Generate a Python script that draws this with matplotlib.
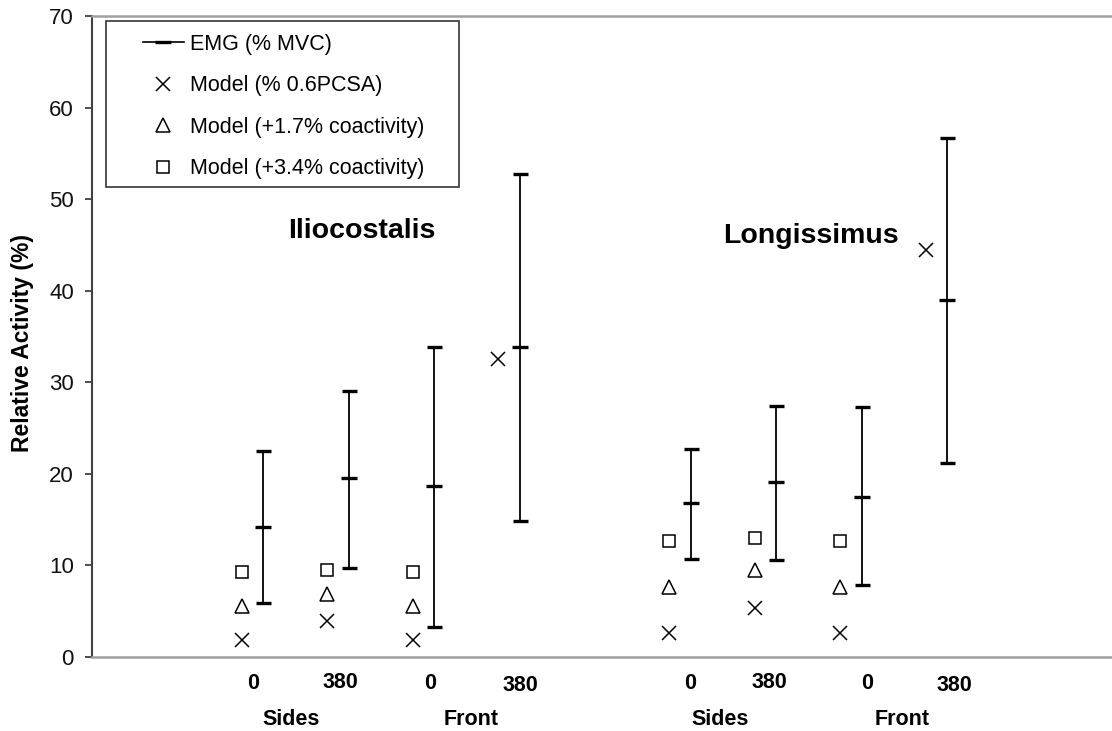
import matplotlib
matplotlib.use('Agg')
import matplotlib.pyplot as plt
from matplotlib.lines import Line2D
from matplotlib.patches import Rectangle
import numpy as np

plt.rcParams['font.family'] = ['Liberation Sans', 'DejaVu Sans']

# slot index of each condition (gap between the two muscles)
slots = [0, 1, 2, 3, 5, 6, 7, 8]
load_labels = ['0', '380', '0', '380', '0', '380', '0', '380']
side_labels = ['Sides', 'Front', 'Sides', 'Front']
muscles = ['Iliocostalis', 'Longissimus']

# EMG (% MVC): mean with low/high range
emg_mean = [14.2, 19.5, 18.7, 33.8, 16.8, 19.1, 17.5, 39.0]
emg_high = [22.5, 29.1, 33.9, 52.7, 22.7, 27.4, 27.3, 56.7]
emg_low = [5.9, 9.7, 3.3, 14.9, 10.7, 10.6, 7.9, 21.2]

# model predictions (nan = not shown)
model_pcsa = [1.9, 3.9, 1.9, 32.5, 2.6, 5.4, 2.6, 44.5]
model_17 = [5.55, 6.9, 5.55, np.nan, 7.6, 9.45, 7.6, np.nan]
model_34 = [9.3, 9.45, 9.3, np.nan, 12.7, 12.95, 12.7, np.nan]

# label placement (layout only)
load_dx = [-0.12, -0.1, -0.04, 0.01, 0.0, -0.08, 0.06, 0.09]
load_dy = [-0.042, -0.040, -0.042, -0.044, -0.042, -0.040, -0.042, -0.045]
side_x = [0.33, 2.43, 5.35, 7.48]
muscle_xy = [(1.16, 46.5), (6.41, 46.0)]

W, H = 1112, 731
fig = plt.figure(figsize=(W / 100, H / 100), dpi=100)
L, R, T, B = 92, 1118, 16, 657
ax = fig.add_axes([L / W, (H - B) / H, (R - L) / W, (B - T) / H])

x = np.array(slots, dtype=float)
mean = np.array(emg_mean)
yerr = [mean - np.array(emg_low), np.array(emg_high) - mean]
ax.errorbar(x, mean, yerr=yerr, fmt='_', color='black', markersize=11,
            mew=2.4, ecolor='black', elinewidth=1.3, capsize=5.4, capthick=2.4,
            zorder=3)

xm = x - 0.25
ax.plot(xm, model_pcsa, 'x', color='black', markersize=10.5, mew=1.1, zorder=3)
ax.plot(xm, model_17, '^', mfc='white', mec='black', markersize=10, mew=1.1, zorder=3)
ax.plot(xm, model_34, 's', mfc='white', mec='black', markersize=9, mew=1.1, zorder=3)

ax.set_xlim(-2, 10)
ax.set_ylim(0, 70)
ax.set_yticks(range(0, 71, 10))
ax.set_xticks([])
ax.tick_params(axis='y', length=5, width=1.3, color='#404040', labelsize=16,
               pad=8, labelcolor='#111111')

ax.spines['right'].set_visible(False)
ax.spines['left'].set_color('#404040')
ax.spines['left'].set_linewidth(1.5)
for s in ['top', 'bottom']:
    ax.spines[s].set_color('#a0a0a0')
    ax.spines[s].set_linewidth(1.8)

ax.set_ylabel('Relative Activity (%)', fontsize=16.5, fontweight='bold')
ax.yaxis.set_label_coords(-0.0565, 0.49)

trans = ax.get_xaxis_transform()
for xi, lab, dx, dy in zip(slots, load_labels, load_dx, load_dy):
    ax.text(xi + dx, dy, lab, transform=trans, ha='center', va='center',
            fontsize=15.5, fontweight='bold')
for xs, lab in zip(side_x, side_labels):
    ax.text(xs, -0.097, lab, transform=trans, ha='center', va='center',
            fontsize=15.5, fontweight='bold')
for (mx, my), lab in zip(muscle_xy, muscles):
    ax.text(mx, my, lab, ha='center', va='center', fontsize=20.5, fontweight='bold')

# legend with a separate square frame
handles = [
    Line2D([], [], color='black', lw=1.2, marker='_', markersize=11, mew=2.4),
    Line2D([], [], ls='none', color='black', marker='x', markersize=10.5, mew=1.1),
    Line2D([], [], ls='none', mfc='white', mec='black', marker='^', markersize=10, mew=1.1),
    Line2D([], [], ls='none', mfc='white', mec='black', marker='s', markersize=9, mew=1.1),
]
labels = ['EMG (% MVC)', 'Model (% 0.6PCSA)', 'Model (+1.7% coactivity)',
          'Model (+3.4% coactivity)']
bw, bh = R - L, B - T
ax.legend(handles, labels, loc='upper left', frameon=False, fontsize=15.5,
          bbox_to_anchor=((143 - L) / bw, (B - 34) / bh), borderaxespad=0,
          borderpad=0, handlelength=1.9, handletextpad=0.3, labelspacing=0.95)
ax.add_patch(Rectangle(((106 - L) / bw, (B - 187) / bh), (459 - 106) / bw,
                       (187 - 21) / bh, transform=ax.transAxes, fill=False,
                       edgecolor='#333333', lw=1.2, zorder=4, clip_on=False))

fig.savefig('out.png', dpi=100)
